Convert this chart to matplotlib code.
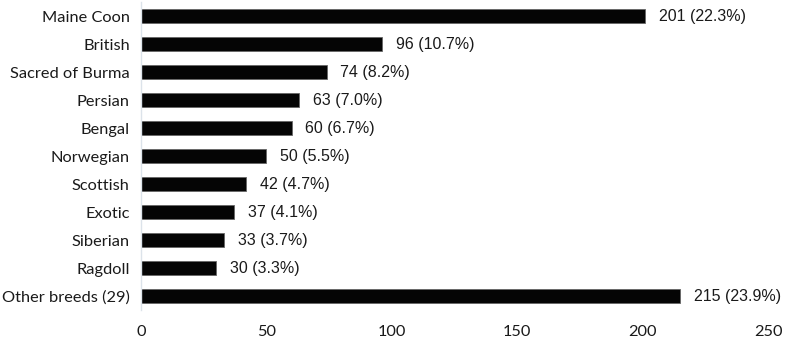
import matplotlib
matplotlib.use("Agg")
import matplotlib.pyplot as plt

breeds = ["Maine Coon", "British", "Sacred of Burma", "Persian", "Bengal",
          "Norwegian", "Scottish", "Exotic", "Siberian", "Ragdoll",
          "Other breeds (29)"]
counts = [201, 96, 74, 63, 60, 50, 42, 37, 33, 30, 215]
pcts = [22.3, 10.7, 8.2, 7.0, 6.7, 5.5, 4.7, 4.1, 3.7, 3.3, 23.9]
xticks = [0, 50, 100, 150, 200, 250]

fig = plt.figure(figsize=(7.85, 3.4), dpi=100)
ax = fig.add_axes([0.1796, 0.088, 0.799, 0.906])

ypos = list(range(len(breeds)))
ax.barh(ypos, counts, height=0.5, color="#050505", edgecolor="#666666",
        linewidth=0.6)
for y, c, p in zip(ypos, counts, pcts):
    ax.text(c + 5.5, y, f"{c} ({p:.1f}%)", va="center", ha="left",
            fontsize=11.5, family="Liberation Sans", color="#1a1a1a")

ax.set_ylim(len(breeds) - 0.5, -0.5)
ax.set_xlim(0, 250)
ax.set_yticks(ypos)
ax.set_yticklabels(breeds, fontsize=11.8, family="Lato", color="#1a1a1a")
ax.set_xticks(xticks)
ax.set_xticklabels([str(t) for t in xticks], fontsize=11.8, family="Lato",
                   color="#1a1a1a")
ax.tick_params(length=0, pad=8)
ax.tick_params(axis="x", pad=11)
for s in ["top", "right", "bottom"]:
    ax.spines[s].set_visible(False)
ax.spines["left"].set_color("#dce3ea")
ax.spines["left"].set_linewidth(1)

fig.savefig("out.png", dpi=100)
